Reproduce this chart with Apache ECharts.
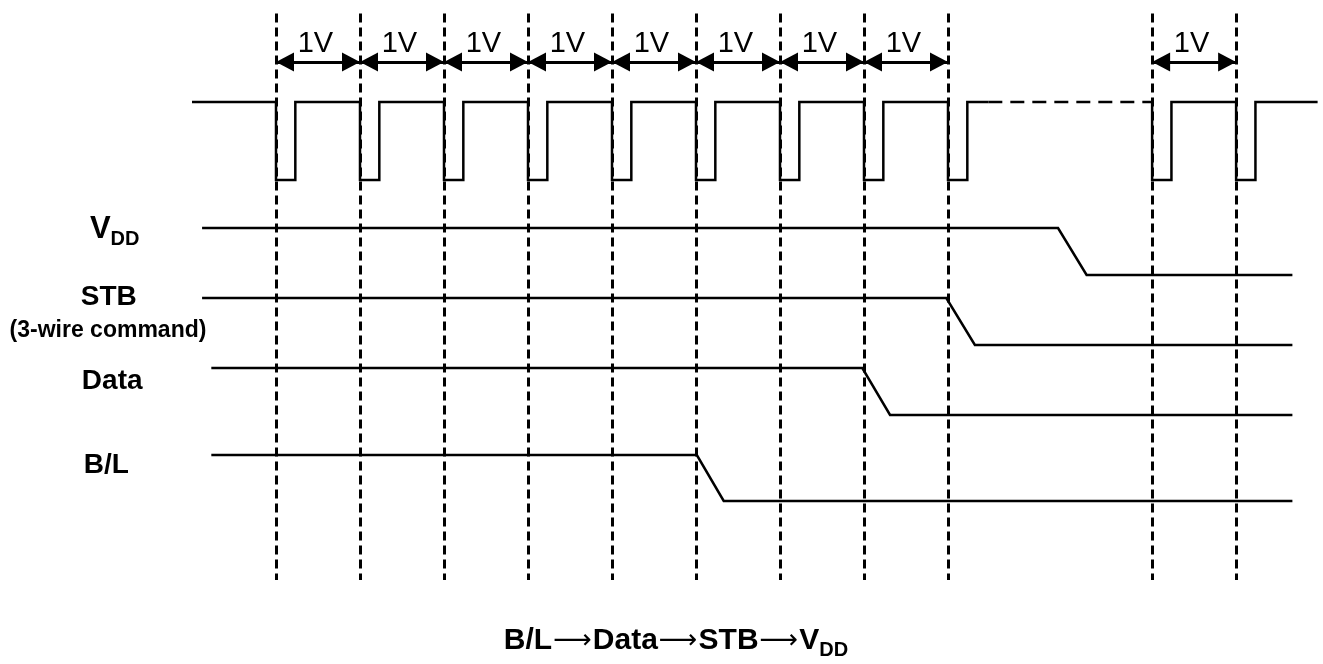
<!DOCTYPE html>
<html>
<head>
<meta charset="utf-8">
<script src="https://cdn.jsdelivr.net/npm/echarts@6/dist/echarts.min.js"></script>
<style>
html,body{margin:0;padding:0;background:#fff;}
#chart{width:1323px;height:664px;}
</style>
</head>
<body>
<div id="chart"></div>
<script>
// ---- data (x in units of V periods, y in units of 10px from top) ----
const boundaries = [0, 1, 2, 3, 4, 5, 6, 7, 8, 10.43, 11.43];
const spans = [[0, 1], [1, 2], [2, 3], [3, 4], [4, 5], [5, 6], [6, 7], [7, 8], [10.43, 11.43]];
const spanText = '1V';
const spanArrowY = 6.2;
const spanTextY = 4.35;
const boundaryExtent = [1.35, 58.0];

const clockHigh = 10.2;
const clockLow = 18.0;
const clockRange = [-1.0, 12.4];
const pulseWidth = 0.23;
const clockGap = [8.48, 10.43];

const signalNames = ['VDD', 'STB', 'Data', 'B/L'];
const signalStart = [-0.88, -0.88, -0.77, -0.77];
const signalFallStart = [9.31, 7.98, 6.98, 5.01];
const signalFallEnd = [9.65, 8.32, 7.31, 5.33];
const signalEnd = [12.1, 12.1, 12.1, 12.1];
const signalHigh = [22.8, 29.8, 36.8, 45.5];
const signalLow = [27.5, 34.5, 41.5, 50.1];

const laneLabels = ['V{s|DD}', 'STB', '(3-wire command)', 'Data', 'B/L'];
const laneLabelX = [-1.92, -1.99, -2.0, -1.95, -2.02];
const laneLabelY = [22.9, 29.7, 33.1, 38.1, 46.5];

const captionParts = ['B/L', 'Data', 'STB', 'V'];
const captionSub = 'DD';

// ---- build ----
const FONT = "'Liberation Sans', Arial, Helvetica, sans-serif";
const pulse = (b) => [[b, clockHigh], [b, clockLow], [b + pulseWidth, clockLow], [b + pulseWidth, clockHigh]];

const clockA = [[clockRange[0], clockHigh]];
boundaries.filter(b => b < clockGap[0]).forEach(b => clockA.push(...pulse(b)));
clockA.push([clockGap[0], clockHigh]);

const clockDash = [[clockGap[0], clockHigh], [clockGap[1], clockHigh]];

const clockB = [[clockGap[1], clockHigh]];
boundaries.filter(b => b >= clockGap[1]).forEach(b => clockB.push(...pulse(b)));
clockB.push([clockRange[1], clockHigh]);

const solid = { color: '#000', width: 2.5, join: 'miter', cap: 'butt' };

const signalSeries = signalNames.map((n, i) => ({
  name: n,
  type: 'line',
  data: [
    [signalStart[i], signalHigh[i]],
    [signalFallStart[i], signalHigh[i]],
    [signalFallEnd[i], signalLow[i]],
    [signalEnd[i], signalLow[i]]
  ],
  showSymbol: false,
  symbol: 'none',
  lineStyle: solid,
  silent: true,
  z: 3
}));

const arrowHead = 'path://M0,-17M0,0L9,17L-9,17Z';

const option = {
  animation: false,
  backgroundColor: '#fff',
  textStyle: { color: '#000', fontFamily: FONT },
  title: {
    text: captionParts.map((p, i) => '{t|' + p + '}' + (i < captionParts.length - 1 ? '{a|\u27F6}' : '')).join('') + '{s|' + captionSub + '}',
    left: 676,
    textAlign: 'center',
    top: 625,
    padding: 0,
    textStyle: {
      color: '#000',
      rich: {
        t: { fontFamily: FONT, fontWeight: 'bold', fontSize: 30, color: '#000', lineHeight: 32 },
        a: { fontFamily: "'DejaVu Sans', sans-serif", fontWeight: 'normal', fontSize: 27, color: '#000', lineHeight: 32, padding: [0, 1, 1, 1] },
        s: { fontFamily: FONT, fontWeight: 'bold', fontSize: 20, color: '#000', lineHeight: 20, padding: [19, 0, 0, 0] }
      }
    }
  },
  grid: { left: 3, right: 1.2, top: 0, bottom: 0 },
  xAxis: { type: 'value', min: -3.25, max: 12.45, show: false },
  yAxis: { type: 'value', min: 0, max: 66.4, inverse: true, show: false },
  series: [
    {
      type: 'lines',
      coordinateSystem: 'cartesian2d',
      data: boundaries.map(b => ({ coords: [[b, boundaryExtent[0]], [b, boundaryExtent[1]]] })),
      lineStyle: { color: '#000', width: 3, type: [9, 5], opacity: 1 },
      symbol: ['none', 'none'],
      silent: true,
      z: 2
    },
    {
      type: 'lines',
      coordinateSystem: 'cartesian2d',
      data: spans.map(s => ({ coords: [[s[0], spanArrowY], [s[1], spanArrowY]] })),
      lineStyle: { color: '#000', width: 3, opacity: 1 },
      itemStyle: { color: '#000' },
      symbol: [arrowHead, arrowHead],
      symbolSize: [[19, 36], [19, 36]],
      silent: true,
      z: 4
    },
    {
      type: 'line', data: clockA, showSymbol: false, symbol: 'none', lineStyle: solid, silent: true, z: 3
    },
    {
      type: 'line', data: clockDash, showSymbol: false, symbol: 'none',
      lineStyle: { color: '#000', width: 2.5, type: [14, 8] }, silent: true, z: 3
    },
    {
      type: 'line', data: clockB, showSymbol: false, symbol: 'none', lineStyle: solid, silent: true, z: 3
    },
    ...signalSeries,
    {
      type: 'scatter',
      symbol: 'circle',
      symbolSize: 0,
      itemStyle: { color: '#000' },
      data: spans.map(s => ({ value: [(s[0] + s[1]) / 2 - 0.03, spanTextY], name: spanText })),
      label: {
        show: true, position: 'inside', formatter: '{b}', align: 'center', verticalAlign: 'middle',
        fontFamily: FONT, fontSize: 29, fontWeight: 'normal', color: '#000',
        textBorderWidth: 0, opacity: 1
      },
      silent: true,
      z: 5
    },
    {
      type: 'scatter',
      symbol: 'circle',
      symbolSize: 0,
      itemStyle: { color: '#000' },
      data: laneLabels.map((t, i) => ({ value: [laneLabelX[i], laneLabelY[i]], name: t })),
      label: {
        show: true, position: 'inside', formatter: '{b}', align: 'center', verticalAlign: 'middle',
        fontFamily: FONT, fontWeight: 'bold', color: '#000', fontSize: 28, lineHeight: 30,
        textBorderWidth: 0, opacity: 1,
        rich: {
          s: { fontFamily: FONT, fontWeight: 'bold', fontSize: 20, color: '#000', lineHeight: 20, padding: [21, 0, 0, 0] }
        }
      },
      silent: true,
      z: 5
    }
  ]
};

// V of V_DD is drawn larger; the STB sub-caption is smaller
const laneSeries = option.series[option.series.length - 1];
laneSeries.data[0].label = { fontSize: 31 };
laneSeries.data[2].label = { fontSize: 23 };

const chart = echarts.init(document.getElementById('chart'), null, { renderer: 'canvas' });
chart.setOption(option);
</script>
</body>
</html>
